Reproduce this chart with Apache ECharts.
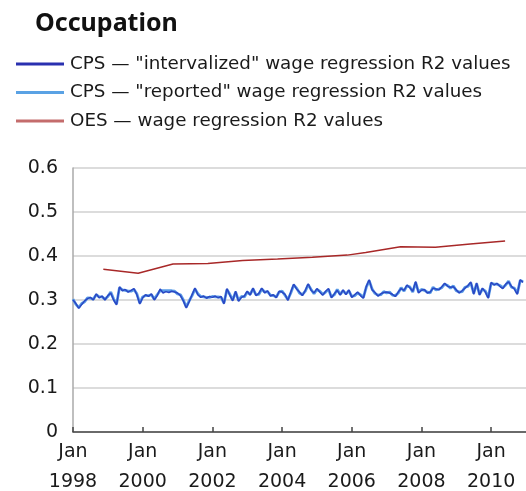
<!DOCTYPE html>
<html>
<head>
<meta charset="utf-8">
<script src="https://cdn.jsdelivr.net/npm/echarts@6/dist/echarts.min.js"></script>
<style>
  html, body { margin: 0; padding: 0; background: #fff; }
  #chart { width: 526px; height: 491px; }
</style>
</head>
<body>
<div id="chart"></div>
<script>
// monthly CPS R2, Jan 1998 .. Dec 2010
const cpsIntervalized = [
    0.300, 0.292, 0.281, 0.290, 0.298, 0.303, 0.306, 0.300, 0.314, 0.305, 0.309, 0.300,
    0.310, 0.316, 0.300, 0.289, 0.330, 0.321, 0.324, 0.318, 0.322, 0.326, 0.312, 0.291,
    0.305, 0.312, 0.308, 0.314, 0.300, 0.310, 0.325, 0.316, 0.319, 0.317, 0.320, 0.318,
    0.316, 0.310, 0.298, 0.282, 0.296, 0.312, 0.327, 0.312, 0.306, 0.309, 0.304, 0.308,
    0.306, 0.309, 0.305, 0.308, 0.291, 0.326, 0.311, 0.298, 0.320, 0.297, 0.306, 0.309,
    0.320, 0.311, 0.327, 0.310, 0.315, 0.327, 0.316, 0.321, 0.309, 0.312, 0.305, 0.320,
    0.318, 0.313, 0.299, 0.318, 0.336, 0.325, 0.318, 0.310, 0.322, 0.337, 0.322, 0.316,
    0.326, 0.318, 0.311, 0.320, 0.326, 0.305, 0.314, 0.322, 0.311, 0.323, 0.312, 0.323,
    0.306, 0.312, 0.318, 0.310, 0.304, 0.331, 0.346, 0.323, 0.317, 0.309, 0.314, 0.317,
    0.318, 0.316, 0.313, 0.308, 0.318, 0.326, 0.322, 0.334, 0.328, 0.320, 0.342, 0.316,
    0.322, 0.324, 0.316, 0.318, 0.327, 0.325, 0.323, 0.330, 0.338, 0.331, 0.329, 0.330,
    0.323, 0.316, 0.321, 0.327, 0.333, 0.341, 0.313, 0.339, 0.311, 0.327, 0.318, 0.304,
    0.340, 0.334, 0.338, 0.331, 0.326, 0.336, 0.341, 0.331, 0.325, 0.313, 0.346, 0.340
];

const cpsReported = [
    0.302, 0.290, 0.283, 0.292, 0.296, 0.305, 0.304, 0.302, 0.312, 0.307, 0.307, 0.302,
    0.308, 0.318, 0.302, 0.291, 0.328, 0.323, 0.322, 0.320, 0.320, 0.324, 0.314, 0.293,
    0.307, 0.310, 0.310, 0.312, 0.302, 0.312, 0.321, 0.321, 0.321, 0.321, 0.321, 0.320,
    0.314, 0.312, 0.300, 0.284, 0.298, 0.310, 0.325, 0.314, 0.308, 0.307, 0.306, 0.306,
    0.308, 0.307, 0.307, 0.306, 0.293, 0.324, 0.313, 0.300, 0.318, 0.299, 0.308, 0.307,
    0.318, 0.313, 0.325, 0.312, 0.313, 0.325, 0.318, 0.319, 0.311, 0.310, 0.307, 0.318,
    0.320, 0.311, 0.301, 0.316, 0.334, 0.327, 0.316, 0.312, 0.320, 0.335, 0.324, 0.314,
    0.324, 0.320, 0.313, 0.318, 0.324, 0.307, 0.312, 0.324, 0.313, 0.321, 0.314, 0.321,
    0.308, 0.310, 0.316, 0.312, 0.306, 0.329, 0.344, 0.325, 0.315, 0.311, 0.312, 0.319,
    0.316, 0.318, 0.311, 0.310, 0.316, 0.328, 0.320, 0.332, 0.330, 0.318, 0.340, 0.318,
    0.324, 0.322, 0.318, 0.316, 0.329, 0.323, 0.325, 0.328, 0.336, 0.333, 0.327, 0.332,
    0.321, 0.318, 0.319, 0.329, 0.331, 0.339, 0.315, 0.337, 0.313, 0.325, 0.320, 0.306,
    0.338, 0.336, 0.336, 0.333, 0.328, 0.334, 0.343, 0.329, 0.327, 0.315, 0.344, 0.342
];

// OES survey points (fractional year)
const oesDates = [1998.87, 1999.87, 2000.87, 2001.87, 2002.87, 2003.87, 2004.87, 2005.87, 2006.4, 2007.4, 2008.4, 2009.4, 2010.4];
const oesValues = [0.370, 0.361, 0.382, 0.383, 0.390, 0.393, 0.397, 0.402, 0.408, 0.421, 0.420, 0.427, 0.434];

const yTicks = [0, 0.1, 0.2, 0.3, 0.4, 0.5, 0.6];

const START_YEAR = 1998;
const monthly = values => values.map((v, i) => [START_YEAR + i / 12, v]);

const chart = echarts.init(document.getElementById('chart'));
const font = 'DejaVu Sans, Verdana, sans-serif';

chart.setOption({
    animation: false,
    textStyle: { fontFamily: font },
    title: {
        text: 'Occupation',
        left: 30,
        top: 6,
        textStyle: { fontFamily: 'Noto Sans, sans-serif', fontSize: 25, fontWeight: 'bold', color: '#111' }
    },
    legend: {
        orient: 'vertical',
        left: 11,
        top: 50,
        itemWidth: 48,
        itemHeight: 3,
        itemGap: 10.5,
        icon: 'rect',
        textStyle: { fontFamily: font, fontSize: 18.3, color: '#1a1a1a', padding: [0, 0, 0, 1] },
        data: [
            'CPS — "intervalized" wage regression R2 values',
            'CPS — "reported" wage regression R2 values',
            'OES — wage regression R2 values'
        ]
    },
    grid: { left: 73, right: 0, top: 168, bottom: 59, outerBoundsMode: 'none' },
    xAxis: {
        type: 'value',
        min: 1998,
        max: 2011,
        interval: 2,
        splitLine: { show: false },
        axisLine: { lineStyle: { color: '#444', width: 1.5 } },
        axisTick: { inside: true, length: 5, lineStyle: { color: '#444', width: 1.5 } },
        axisLabel: {
            showMaxLabel: false,
            fontSize: 19,
            lineHeight: 30,
            color: '#1a1a1a',
            margin: 5,
            formatter: v => 'Jan\n' + v
        }
    },
    yAxis: {
        type: 'value',
        min: 0,
        max: 0.6,
        interval: 0.1,
        axisLine: { show: true, lineStyle: { color: '#aaa', width: 1.5 } },
        axisTick: { show: false },
        splitLine: { lineStyle: { color: '#d0d0d0', width: 1.5 } },
        axisLabel: {
            fontSize: 19,
            color: '#1a1a1a',
            margin: 15,
            formatter: v => yTicks.includes(+v.toFixed(1)) ? String(+v.toFixed(1)) : ''
        }
    },
    series: [
        {
            name: 'CPS — "intervalized" wage regression R2 values',
            type: 'line',
            data: monthly(cpsIntervalized),
            showSymbol: false,
            z: 3,
            color: '#2a30b0',
            lineStyle: { color: '#2a47c4', width: 1.5 }
        },
        {
            name: 'CPS — "reported" wage regression R2 values',
            type: 'line',
            data: monthly(cpsReported),
            showSymbol: false,
            z: 2,
            color: '#5aa2e4',
            lineStyle: { color: '#5a9ce6', width: 2.8 }
        },
        {
            name: 'OES — wage regression R2 values',
            type: 'line',
            data: oesDates.map((d, i) => [d, oesValues[i]]),
            showSymbol: false,
            color: '#c46c6c',
            lineStyle: { color: '#a82828', width: 1.5 }
        }
    ]
});
</script>
</body>
</html>
